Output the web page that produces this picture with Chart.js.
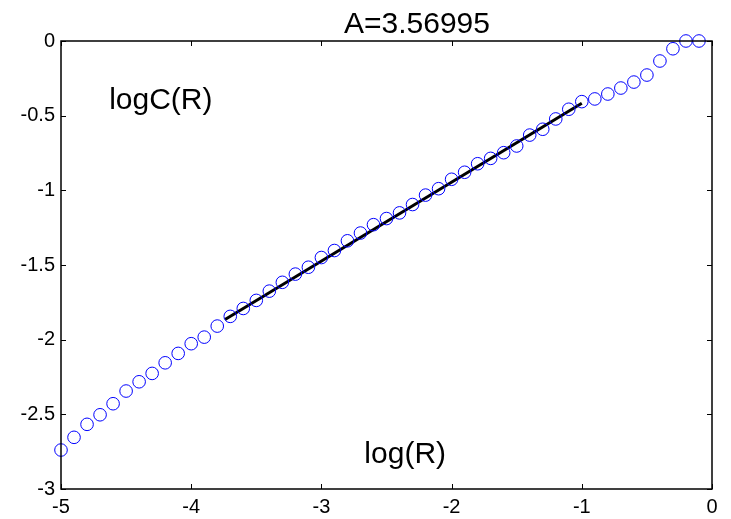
<!DOCTYPE html>
<html>
<head>
<meta charset="utf-8">
<script src="https://cdn.jsdelivr.net/npm/chart.js@4/dist/chart.umd.min.js"></script>
<style>
  html, body { margin: 0; padding: 0; background: #fff; }
  #corrChart { display: block; }
</style>
</head>
<body>
<canvas id="corrChart" width="731" height="519"></canvas>
<script>
// log(R) values of the circles
const logR = [
    -5.0, -4.9, -4.8, -4.7, -4.6, -4.5, -4.4, -4.3, -4.2, -4.1,
    -4.0, -3.9, -3.8, -3.7, -3.6, -3.5, -3.4, -3.3, -3.2, -3.1,
    -3.0, -2.9, -2.8, -2.7, -2.6, -2.5, -2.4, -2.3, -2.2, -2.1,
    -2.0, -1.9, -1.8, -1.7, -1.6, -1.5, -1.4, -1.3, -1.2, -1.1,
    -1.0, -0.9, -0.8, -0.7, -0.6, -0.5, -0.4, -0.3, -0.2, -0.1
];
// logC(R) values
const logC = [
    -2.739, -2.654, -2.567, -2.503, -2.429, -2.344, -2.282, -2.226, -2.155, -2.092,
    -2.027, -1.983, -1.909, -1.844, -1.791, -1.737, -1.675, -1.616, -1.561, -1.515,
    -1.450, -1.403, -1.338, -1.286, -1.230, -1.189, -1.151, -1.095, -1.032, -0.989,
    -0.926, -0.879, -0.822, -0.786, -0.748, -0.703, -0.630, -0.591, -0.522, -0.457,
    -0.406, -0.388, -0.355, -0.315, -0.275, -0.228, -0.134, -0.052, 0.0, 0.0
];
// fitted line end points
const fitX = [-3.74, -1.0];
const fitY = [-1.865, -0.417];

const titleText = 'A=3.56995';
const yLabel = { text: 'logC(R)', x: -4.63, y: -0.40 };
const xLabel = { text: 'log(R)', x: -2.67, y: -2.77 };

const FONT = '"Liberation Sans", Arial, Helvetica, sans-serif';

Chart.defaults.font.family = FONT;
Chart.defaults.color = '#000';

// box, inward ticks, title and text annotations, MATLAB style
const matlabAxes = {
    id: 'matlabAxes',
    beforeDraw(chart) {
        const c = chart.ctx;
        c.save();
        c.fillStyle = '#fff';
        c.fillRect(0, 0, chart.width, chart.height);
        c.restore();
    },
    afterDatasetsDraw(chart) {
        const c = chart.ctx;
        const a = chart.chartArea;
        const xs = chart.scales.x, ys = chart.scales.y;
        c.save();
        c.strokeStyle = '#000';
        c.lineWidth = 1.5;
        c.strokeRect(a.left, a.top, a.right - a.left, a.bottom - a.top);
        c.lineWidth = 1;
        const tl = 5;
        c.beginPath();
        xs.ticks.forEach(t => {
            const px = Math.round(xs.getPixelForValue(t.value)) + 0.5;
            c.moveTo(px, a.bottom); c.lineTo(px, a.bottom - tl);
            c.moveTo(px, a.top); c.lineTo(px, a.top + tl);
        });
        ys.ticks.forEach(t => {
            const py = Math.round(ys.getPixelForValue(t.value)) + 0.5;
            c.moveTo(a.left, py); c.lineTo(a.left + tl, py);
            c.moveTo(a.right, py); c.lineTo(a.right - tl, py);
        });
        c.stroke();

        c.fillStyle = '#000';
        c.font = '30px ' + FONT;
        c.textAlign = 'center';
        c.textBaseline = 'alphabetic';
        c.fillText(titleText, 417, 33);

        c.textAlign = 'left';
        c.textBaseline = 'middle';
        [yLabel, xLabel].forEach(l => {
            c.fillText(l.text, xs.getPixelForValue(l.x), ys.getPixelForValue(l.y));
        });
        c.restore();
    }
};

const ctx = document.getElementById('corrChart');

new Chart(ctx, {
    type: 'scatter',
    data: {
        datasets: [{
            data: logR.map((v, i) => ({ x: v, y: logC[i] })),
            showLine: false,
            pointStyle: 'circle',
            pointRadius: 6.3,
            pointBorderWidth: 1,
            pointBorderColor: '#0000ff',
            pointBackgroundColor: 'rgba(0,0,0,0)',
            clip: false
        }, {
            data: fitX.map((v, i) => ({ x: v, y: fitY[i] })),
            showLine: true,
            borderColor: '#000',
            borderWidth: 3,
            pointRadius: 0
        }]
    },
    options: {
        responsive: false,
        animation: false,
        events: [],
        layout: { padding: { top: 41, right: 19, left: 0, bottom: 0 } },
        plugins: {
            legend: { display: false },
            tooltip: { enabled: false }
        },
        scales: {
            x: {
                type: 'linear',
                min: -5, max: 0,
                grid: { display: false, drawTicks: false },
                border: { display: false },
                ticks: { stepSize: 1, padding: 6, maxRotation: 0, font: { size: 20 },
                         callback: v => String(v) },
                afterFit(s) { s.height = 30; }
            },
            y: {
                type: 'linear',
                min: -3, max: 0,
                grid: { display: false, drawTicks: false },
                border: { display: false },
                ticks: { stepSize: 0.5, padding: 6, font: { size: 20 },
                         callback: v => String(v) },
                afterFit(s) { s.width = 61; }
            }
        }
    },
    plugins: [matlabAxes]
});
</script>
</body>
</html>
